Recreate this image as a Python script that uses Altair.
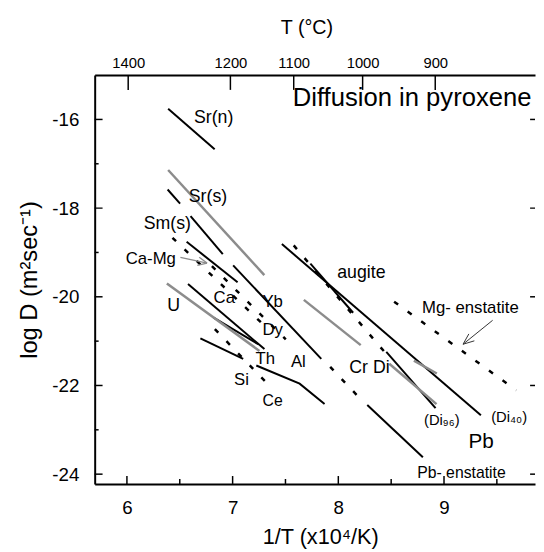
import altair as alt
import pandas as pd

# ---- axis extents and tick values ----
X_DOMAIN = [5.695, 9.861]
Y_DOMAIN = [-24.22, -15.0]
X_MAJOR = [6, 7, 8, 9]
X_MINOR = [6.5, 7.5, 8.5, 9.5]
Y_MAJOR = [-24, -22, -20, -18, -16]
Y_MINOR = [-23, -21, -19, -17]
# top axis: temperature ticks (positions on the 1/T scale as drawn)
T_POS = [6.012, 6.979, 7.578, 8.230, 8.917]
T_LABELS = ["1400", "1200", "1100", "1000", "900"]

# ---- black solid segments: (1/T values, log D values) ----
sr_n = ([6.39, 6.83], [-15.76, -16.67])
sm_s_a = ([6.385, 6.503], [-17.58, -17.90])
sm_s_b = ([6.602, 6.907], [-18.18, -19.04])
ca = ([6.565, 7.047], [-18.76, -19.67])
yb = ([7.005, 7.839], [-19.29, -21.40])
th = ([6.578, 7.301], [-19.71, -21.18])
th2 = ([6.82, 7.242], [-20.47, -21.07])
si = ([6.695, 7.10], [-20.94, -21.40])
ce = ([7.224, 7.634, 7.87], [-21.55, -21.96, -22.42])
augite = ([7.466, 9.349], [-18.81, -22.67])
augite2 = ([7.736, 8.14], [-19.25, -20.36])
di95 = ([8.454, 8.92], [-21.24, -22.51])
pb_enst = ([8.274, 8.80], [-22.44, -23.62])

# ---- grey solid segments ----
sr_s = ([6.39, 7.30], [-17.14, -19.51])
u = ([6.378, 7.254], [-19.70, -21.22])
cr_di = ([7.674, 8.212], [-20.07, -21.09])
di95_g = ([8.482, 8.929], [-21.51, -22.42])
di40_g = ([8.715, 8.932], [-21.44, -21.73])

# ---- black dashed segments ----
camg_d = ([6.431, 7.336], [-18.67, -20.73])
ca_d = ([6.804, 7.503], [-19.31, -20.96])
dy_d = ([6.832, 7.317], [-20.73, -21.93])
crdi_d = ([7.578, 8.454], [-18.84, -21.29])
mg_enst_d = ([8.528, 9.684], [-20.11, -22.11])
pb_enst_d = ([7.923, 8.212], [-21.58, -22.31])

# ---- arrows ----
mg_arrow = ([9.46, 9.18], [-20.53, -21.07])
mg_head_a = ([9.287, 9.18], [-20.993, -21.07])
mg_head_b = ([9.235, 9.18], [-20.837, -21.07])
camg_arrow = ([6.506, 6.758], [-19.11, -19.24])
camg_head_a = ([6.666, 6.758], [-19.29, -19.24])
camg_head_b = ([6.684, 6.758], [-19.109, -19.24])

# ---- labels ----
LAB_TEXT = ["Sr(n)", "Sr(s)", "Sm(s)", "Ca-Mg", "Ca", "U", "Yb", "Dy", "Th", "Al",
            "Si", "Ce", "augite", "Cr Di", "Mg- enstatite", "(Di₉₆)", "(Di₄₀)",
            "Pb", "Pb- enstatite"]
LAB_X = [6.82, 6.767, 6.382, 6.226, 6.921, 6.441, 7.379, 7.379, 7.31, 7.622,
         7.084, 7.379, 8.218, 8.295, 9.249, 8.979, 9.616, 9.351, 9.165]
LAB_Y = [-15.98, -17.76, -18.35, -19.16, -20.04, -20.22, -20.13, -20.76, -21.40, -21.47,
         -21.88, -22.36, -19.46, -21.61, -20.25, -22.79, -22.72, -23.27, -23.98]
LAB_FS = [18, 18, 18, 17, 17, 18, 17, 17, 17, 17,
          17, 16, 18, 18, 17, 15, 15, 21, 16]
TITLE_TEXT = ["Diffusion in pyroxene"]
TITLE_X = [7.569]
TITLE_Y = [-15.53]


def frame(series):
    rows = []
    for name, (xs_, ys_) in series.items():
        for i, (a, b) in enumerate(zip(xs_, ys_)):
            rows.append({"seg": name, "x": a, "y": b, "o": i})
    return pd.DataFrame(rows)


W, H = 447, 415
FONT = "Liberation Sans"
PX_X = (X_DOMAIN[1] - X_DOMAIN[0]) / W
PX_Y = (Y_DOMAIN[1] - Y_DOMAIN[0]) / H

df_black = frame({"sr_n": sr_n, "sm_a": sm_s_a, "sm_b": sm_s_b, "ca": ca, "yb": yb,
                  "th": th, "th2": th2, "si": si, "ce": ce, "augite": augite,
                  "augite2": augite2, "di95": di95, "pb_enst": pb_enst})
df_grey = frame({"sr_s": sr_s, "u": u, "cr_di": cr_di, "di95_g": di95_g,
                 "di40_g": di40_g})
df_dash = frame({"camg": camg_d, "ca_d": ca_d, "dy_d": dy_d, "crdi_d": crdi_d,
                 "mg": mg_enst_d, "pb_d": pb_enst_d})
df_arrow_k = frame({"a": mg_arrow, "b": mg_head_a, "c": mg_head_b})
df_arrow_g = frame({"a": camg_arrow, "b": camg_head_a, "c": camg_head_b})
df_lab = pd.DataFrame({"t": LAB_TEXT, "x": LAB_X, "y": LAB_Y, "fs": LAB_FS})
df_title = pd.DataFrame({"t": TITLE_TEXT, "x": TITLE_X, "y": TITLE_Y})


# tick segments (inward from the frame), lengths in pixels
def vticks(vals, length, top=False):
    y0 = Y_DOMAIN[1] if top else Y_DOMAIN[0]
    y1 = y0 - length * PX_Y if top else y0 + length * PX_Y
    return frame({"v%d%d%d" % (length, top, i): ([v, v + 1e-6], [y0, y1])
                  for i, v in enumerate(vals)})


def hticks(vals, length, right=False):
    x0 = X_DOMAIN[1] if right else X_DOMAIN[0]
    x1 = x0 - length * PX_X if right else x0 + length * PX_X
    return frame({"h%d%d%d" % (length, right, i): ([x0, x1], [v, v + 1e-6])
                  for i, v in enumerate(vals)})


df_ticks = pd.concat([vticks(T_POS, 15, top=True), vticks(X_MAJOR, 8),
                      vticks(X_MINOR, 5), hticks(Y_MAJOR, 8), hticks(Y_MINOR, 4),
                      hticks(Y_MAJOR, 5, right=True)], ignore_index=True)

xs = alt.Scale(domain=X_DOMAIN, nice=False, zero=False)
ys = alt.Scale(domain=Y_DOMAIN, nice=False, zero=False)

AX = dict(grid=False, labelColor="black", titleColor="black", titleFontWeight="normal",
          domainColor="black")

bottom_axis = alt.Axis(orient="bottom", values=X_MAJOR, ticks=False,
                       domain=True, domainWidth=2,
                       labelFontSize=19, labelPadding=15,
                       title="1/T (x10⁴/K)", titleFontSize=22,
                       titlePadding=10, titleX=229, **AX)
left_axis = alt.Axis(orient="left", values=Y_MAJOR, ticks=False,
                     domain=True, domainWidth=2,
                     labelFontSize=19, labelPadding=16,
                     labelExpr="'' + datum.value",
                     title="log D (m²sec⁻¹)", titleFontSize=24,
                     titlePadding=11, **AX)
t_expr = "[" + ",".join("'%s'" % s for s in T_LABELS) + "][indexof([" + \
    ",".join(str(v) for v in T_POS) + "], datum.value)]"
top_axis = alt.Axis(orient="top", values=T_POS, ticks=False,
                    domain=True, domainWidth=2,
                    labelFontSize=15, labelPadding=5,
                    labelExpr=t_expr,
                    title="T (°C)", titleFontSize=20,
                    titlePadding=18, titleX=215, **AX)


def lines(df, xaxis=None, yaxis=None, **mk):
    return alt.Chart(df).mark_line(**mk).encode(
        x=alt.X("x:Q", scale=xs, axis=xaxis),
        y=alt.Y("y:Q", scale=ys, axis=yaxis),
        detail="seg:N", order="o:Q")


black = lines(df_black, xaxis=bottom_axis, yaxis=left_axis, color="black", strokeWidth=2)
grey = lines(df_grey, color="#8c8c8c", strokeWidth=2.5)
dash = lines(df_dash, color="black", strokeWidth=2.5, strokeDash=[5, 12])
arrow_k = lines(df_arrow_k, color="#333333", strokeWidth=1)
arrow_g = lines(df_arrow_g, color="#8c8c8c", strokeWidth=1.3)
ticks = lines(df_ticks, color="black", strokeWidth=1.5)
top_lab = alt.Chart(pd.DataFrame({"v": T_POS})).mark_point(opacity=0).encode(
    x=alt.X("v:Q", scale=xs, axis=top_axis))

labels = alt.Chart(df_lab).mark_text(font=FONT, color="black").encode(
    x=alt.X("x:Q", scale=xs, axis=None),
    y=alt.Y("y:Q", scale=ys, axis=None),
    text="t:N",
    size=alt.Size("fs:Q", scale=None, legend=None))
title = alt.Chart(df_title).mark_text(font=FONT, color="black", align="left",
                                      fontSize=26).encode(
    x=alt.X("x:Q", scale=xs, axis=None),
    y=alt.Y("y:Q", scale=ys, axis=None),
    text="t:N")

chart = alt.layer(
    black, ticks, grey, dash, arrow_k, arrow_g, labels, title, top_lab
).resolve_axis(x="independent", y="independent").properties(
    width=W, height=H,
    autosize=alt.AutoSizeParams(type="none"),
    padding={"left": 88, "top": 64, "right": 1, "bottom": 65},
).configure_view(stroke=None).configure_axis(
    labelFont=FONT, titleFont=FONT
).configure_text(font=FONT)

chart.save("out.html", embed_options={"renderer": "svg", "actions": False})
